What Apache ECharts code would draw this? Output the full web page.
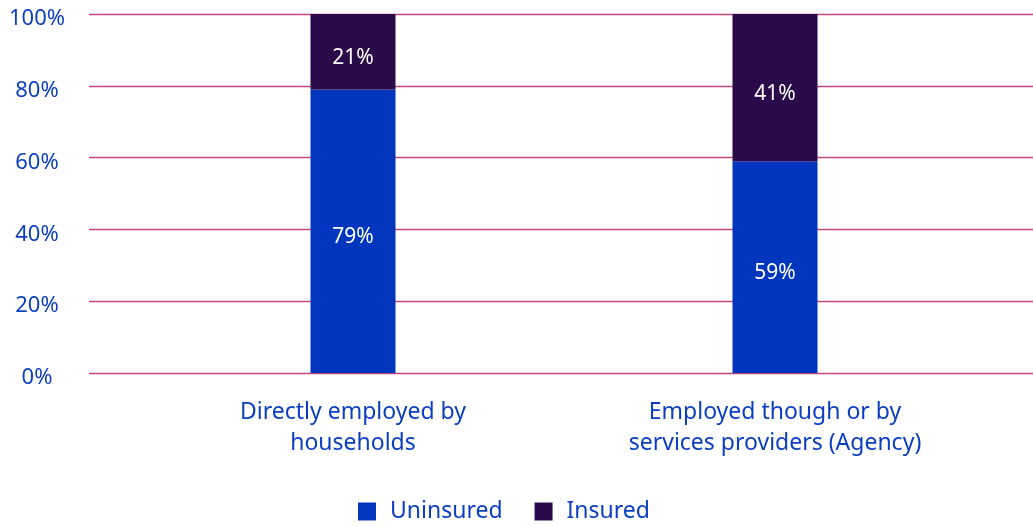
<!DOCTYPE html>
<html>
<head>
<meta charset="utf-8">
<script src="https://cdn.jsdelivr.net/npm/echarts@6/dist/echarts.min.js"></script>
<style>
  html, body { margin: 0; padding: 0; background: #fff; }
  #chart { width: 1033px; height: 526px; }
</style>
</head>
<body>
<div id="chart"></div>
<script>
const categories = ['Directly employed by\nhouseholds', 'Employed though or by\nservices providers (Agency)']
const uninsured = [79, 59]
const insured = [21, 41]
const seriesNames = ['Uninsured', 'Insured']

const textBlue = '#0b3fbf'
const fontFamily = '"Noto Sans", "Open Sans", sans-serif'

const chart = echarts.init(document.getElementById('chart'))

// grid 0 only carries the full-width split lines and the y labels,
// grid 1 holds the bars so they sit inside the narrower band
chart.setOption({
  animation: false,
  textStyle: { fontFamily },
  grid: [
    { left: 89, right: 0, top: 14, bottom: 153 },
    { left: 142, right: 47, top: 14, bottom: 153 }
  ],
  legend: {
    left: 353,
    top: 495,
    itemWidth: 18,
    itemHeight: 18,
    itemGap: 32,
    icon: 'rect',
    textStyle: { color: textBlue, fontSize: 23, fontFamily, padding: [0, 0, 0, 9] },
    data: seriesNames
  },
  xAxis: [
    { type: 'value', gridIndex: 0, show: false },
    {
      type: 'category',
      gridIndex: 1,
      data: categories,
      axisLine: { show: false },
      axisTick: { show: false },
      axisLabel: {
        color: textBlue,
        fontSize: 23,
        lineHeight: 31,
        margin: 24,
        fontFamily
      }
    }
  ],
  yAxis: [
    {
      type: 'value',
      gridIndex: 0,
      min: 0,
      max: 100,
      interval: 20,
      axisLine: { show: false },
      axisTick: { show: false },
      axisLabel: {
        formatter: '{value}%',
        color: textBlue,
        fontSize: 22,
        align: 'center',
        verticalAlign: 'top',
        lineHeight: 10,
        margin: 52,
        fontFamily
      },
      splitLine: { lineStyle: { color: '#c0467c', width: 1.4 } }
    },
    { type: 'value', gridIndex: 1, min: 0, max: 100, show: false }
  ],
  series: [
    {
      name: seriesNames[0],
      type: 'bar',
      stack: 'total',
      xAxisIndex: 1,
      yAxisIndex: 1,
      barWidth: 85,
      itemStyle: { color: '#0036be' },
      label: {
        show: true,
        position: 'inside',
        offset: [0, 6],
        formatter: '{c}%',
        color: '#fff',
        fontSize: 21,
        fontFamily
      },
      data: uninsured
    },
    {
      name: seriesNames[1],
      type: 'bar',
      stack: 'total',
      xAxisIndex: 1,
      yAxisIndex: 1,
      barWidth: 85,
      itemStyle: { color: '#2a0a48' },
      label: {
        show: true,
        position: 'inside',
        offset: [0, 6],
        formatter: '{c}%',
        color: '#fff',
        fontSize: 21,
        fontFamily
      },
      data: insured
    }
  ]
})
</script>
</body>
</html>
